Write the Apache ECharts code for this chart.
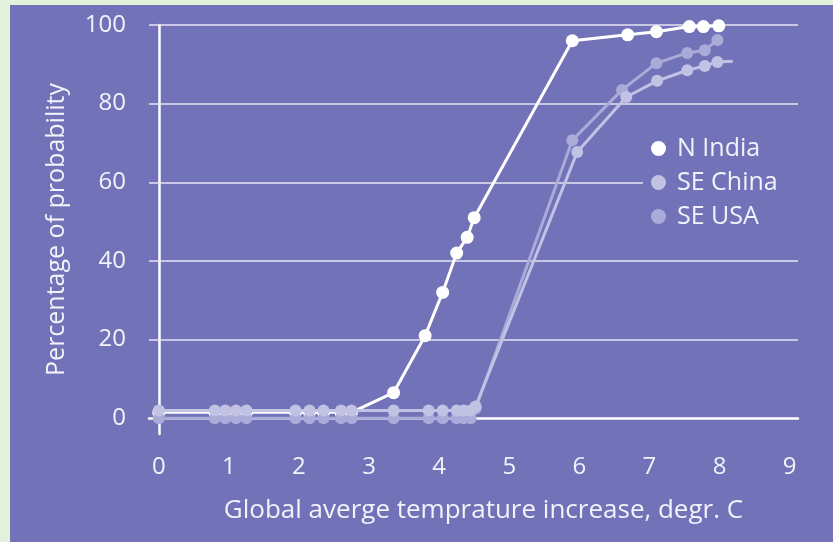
<!DOCTYPE html>
<html>
<head>
<meta charset="utf-8">
<script src="https://cdn.jsdelivr.net/npm/echarts@6/dist/echarts.min.js"></script>
<style>
html,body{margin:0;padding:0;width:833px;height:542px;background:#e3f0da;overflow:hidden;}
#c{position:absolute;left:10px;top:5px;width:823px;height:537px;}
</style>
</head>
<body>
<div id="c"></div>
<script>
// Data
const seriesNames = ['N India', 'SE China', 'SE USA'];
const tempIndia = [0, 0.8, 0.95, 1.1, 1.25, 1.95, 2.15, 2.35, 2.6, 2.75, 3.35, 3.8, 4.05, 4.25, 4.4, 4.5, 5.9, 6.69, 7.1, 7.57, 7.77, 7.99];
const probIndia = [1.5, 1.5, 1.5, 1.5, 1.5, 1.5, 1.5, 1.5, 1.5, 1.5, 6.5, 21, 32, 42, 46, 51, 96, 97.5, 98.3, 99.6, 99.6, 99.8];
const tempChina = [0, 0.8, 0.95, 1.1, 1.25, 1.95, 2.15, 2.35, 2.6, 2.75, 3.35, 3.85, 4.05, 4.25, 4.35, 4.45, 4.52, 5.97, 6.67, 7.11, 7.54, 7.79, 7.97, 8.19];
const probChina = [2, 2, 2, 2, 2, 2, 2, 2, 2, 2, 2, 2, 2, 2, 2, 2, 3, 67.7, 81.7, 85.8, 88.5, 89.6, 90.6, 90.8];
const tempUSA = [0, 0.8, 0.95, 1.1, 1.25, 1.95, 2.15, 2.35, 2.6, 2.75, 3.35, 3.85, 4.05, 4.25, 4.35, 4.45, 4.52, 5.9, 6.61, 7.1, 7.54, 7.79, 7.97];
const probUSA = [0, 0, 0, 0, 0, 0, 0, 0, 0, 0, 0, 0, 0, 0, 0, 0, 2.5, 70.7, 83.5, 90.3, 92.9, 93.6, 96.2];
const xTicks = [0, 1, 2, 3, 4, 5, 6, 7, 8, 9];
const yTicks = [0, 20, 40, 60, 80, 100];
const yGridLines = [20, 40, 60, 80, 100];

const FONT = 'Open Sans';
const TXT = '#f2f2fa';
const BG = '#7272b8';

function pairs(xs, ys) { return xs.map((x, i) => [x, ys[i]]); }
const chinaData = pairs(tempChina, probChina).map((p, i, arr) =>
  i === arr.length - 1 ? { value: p, symbolSize: 0 } : p);

const chart = echarts.init(document.getElementById('c'));
chart.setOption({
  backgroundColor: BG,
  animation: false,
  grid: { left: 139, right: 35, top: 20, bottom: 108 },
  legend: {
    orient: 'vertical',
    left: 633, top: 125,
    itemWidth: 15, itemHeight: 15, itemGap: 9,
    icon: 'circle',
    backgroundColor: BG,
    padding: [6, 50, 4, 8],
    textStyle: { color: TXT, fontSize: 25, fontFamily: FONT, padding: [0, 0, 0, 6] },
    data: seriesNames
  },
  xAxis: {
    type: 'value', min: -0.14, max: 9.12,
    axisLine: { show: true, lineStyle: { color: '#ffffff', width: 2.5 } },
    axisTick: { show: false },
    splitLine: { show: false },
    axisLabel: { customValues: xTicks, color: TXT, fontSize: 24, fontFamily: FONT, margin: 21 },
    name: 'Global averge temprature increase, degr. C',
    nameLocation: 'middle', nameGap: 64,
    nameTextStyle: { color: TXT, fontSize: 26, fontFamily: FONT, padding: [0, 0, 0, 20] }
  },
  yAxis: {
    type: 'value', min: -4, max: 100,
    axisLine: { show: true, lineStyle: { color: '#ffffff', width: 2.5 } },
    axisTick: { show: false },
    splitLine: { show: false },
    axisLabel: { customValues: yTicks, color: TXT, fontSize: 24, fontFamily: FONT, margin: 23 },
    name: 'Percentage of probability',
    nameLocation: 'middle', nameGap: 80,
    nameTextStyle: { color: TXT, fontSize: 25, fontFamily: FONT }
  },
  series: [
    {
      name: 'N India', type: 'line', z: 2,
      data: pairs(tempIndia, probIndia),
      symbol: 'circle', symbolSize: 13,
      lineStyle: { color: '#ffffff', width: 3 },
      itemStyle: { color: '#ffffff' },
      markLine: {
        silent: true, symbol: 'none', z: 1,
        label: { show: false },
        lineStyle: { color: '#e6e6f4', width: 1.5, type: 'solid' },
        data: yGridLines.map(v => ({ yAxis: v }))
      }
    },
    {
      name: 'SE USA', type: 'line', z: 3,
      data: pairs(tempUSA, probUSA),
      symbol: 'circle', symbolSize: 12,
      lineStyle: { color: '#ababd9', width: 3 },
      itemStyle: { color: '#ababd9' }
    },
    {
      name: 'SE China', type: 'line', z: 4,
      data: chinaData,
      symbol: 'circle', symbolSize: 12,
      lineStyle: { color: '#c2c2e5', width: 3 },
      itemStyle: { color: '#c2c2e5' }
    }
  ]
});
</script>
</body>
</html>
